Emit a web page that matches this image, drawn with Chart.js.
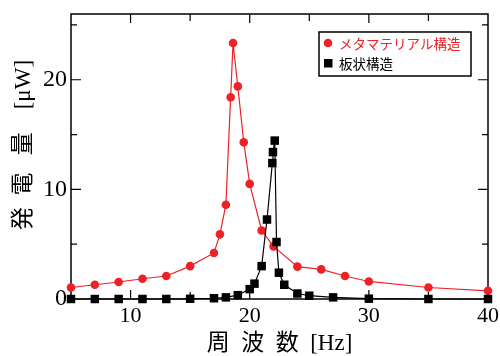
<!DOCTYPE html>
<html><head><meta charset="utf-8">
<script src="https://cdn.jsdelivr.net/npm/chart.js@4"></script>
<style>html,body{margin:0;padding:0;background:#fff;}</style>
</head><body>
<canvas id="c" width="500" height="356"></canvas>
<script>
// ---- data ----
const metaX = [5, 7, 9, 11, 13, 15, 17, 17.5, 18, 18.4, 18.6, 19, 19.5, 20, 21, 22, 24, 26, 28, 30, 35, 40];
const metaY = [1.05, 1.3, 1.55, 1.85, 2.1, 3.0, 4.2, 5.9, 8.6, 18.4, 23.35, 19.4, 14.3, 10.5, 6.25, 4.8, 2.95, 2.7, 2.1, 1.6, 1.05, 0.75];
const plateX = [5, 7, 9, 11, 13, 15, 17, 18, 19, 20, 20.4, 21, 21.45, 21.9, 21.95, 22.1, 22.25, 22.45, 22.9, 24, 25, 27, 30, 35, 40];
const plateY = [0, 0, 0, 0, 0, 0.02, 0.07, 0.15, 0.35, 0.9, 1.4, 3.0, 7.25, 12.4, 13.4, 14.45, 5.2, 2.4, 1.3, 0.5, 0.3, 0.15, 0.03, 0, 0];
const seriesNames = ['メタマテリアル構造', '板状構造'];
const xTickLabels = [10, 20, 30, 40];
const yTickLabels = [0, 10, 20];
const xTitle = '周  波  数  [Hz]';
const yTitle = '    発  電   量    [μW]';

const RED = '#ec2227';
const BLACK = '#000000';
const toPts = (xs, ys) => xs.map((x, i) => ({x: x, y: ys[i]}));

const frameTicks = {
  id: 'frameTicks',
  beforeDatasetsDraw(chart) {
    const {ctx, chartArea: a, scales: {x, y}} = chart;
    ctx.save();
    ctx.strokeStyle = '#000';
    ctx.lineWidth = 1.5;
    ctx.strokeRect(a.left, a.top, a.right - a.left, a.bottom - a.top);
    ctx.lineWidth = 1.2;
    ctx.beginPath();
    for (let v = 10; v < 40; v += 5) {
      const px = x.getPixelForValue(v);
      const len = (v % 10 === 0) ? 9 : 7;
      ctx.moveTo(px, a.top); ctx.lineTo(px, a.top + len);
      ctx.moveTo(px, a.bottom); ctx.lineTo(px, a.bottom - len);
    }
    for (let v = 5; v < 26; v += 5) {
      const py = y.getPixelForValue(v);
      const len = (v % 10 === 0) ? 10 : 6;
      ctx.moveTo(a.left, py); ctx.lineTo(a.left + len, py);
      ctx.moveTo(a.right, py); ctx.lineTo(a.right - len, py);
    }
    ctx.stroke();
    ctx.restore();
  },
  afterDraw(chart) {
    const {ctx} = chart;
    ctx.save();
    ctx.strokeStyle = '#000';
    ctx.lineWidth = 1.5;
    ctx.strokeRect(319, 32, 152, 44);
    ctx.font = '13.5px "Noto Sans CJK JP"';
    ctx.textBaseline = 'middle';
    ctx.textAlign = 'left';
    ctx.fillStyle = RED;
    ctx.beginPath(); ctx.arc(328, 43, 4.3, 0, Math.PI * 2); ctx.fill();
    ctx.fillText(seriesNames[0], 339, 43.5);
    ctx.fillStyle = BLACK;
    ctx.fillRect(324, 59, 8.5, 8.5);
    ctx.fillText(seriesNames[1], 339, 64);
    ctx.restore();
  }
};

new Chart(document.getElementById('c'), {
  type: 'scatter',
  data: {
    datasets: [
      {
        label: seriesNames[0],
        data: toPts(metaX, metaY),
        showLine: true,
        borderColor: RED,
        backgroundColor: RED,
        borderWidth: 1.2,
        pointStyle: 'circle',
        pointRadius: 4.3,
        pointBorderWidth: 0,
        order: 2,
        clip: false
      },
      {
        label: seriesNames[1],
        data: toPts(plateX, plateY),
        showLine: true,
        borderColor: BLACK,
        backgroundColor: BLACK,
        borderWidth: 1.2,
        pointStyle: 'rect',
        pointRadius: 6,
        pointBorderWidth: 0,
        order: 1,
        clip: false
      }
    ]
  },
  options: {
    responsive: false,
    animation: false,
    devicePixelRatio: 1,
    layout: {padding: {top: 14, right: 12, left: 0, bottom: 0}},
    plugins: {legend: {display: false}, tooltip: {enabled: false}},
    scales: {
      x: {
        type: 'linear',
        min: 5, max: 40,
        grid: {display: false, drawTicks: false},
        border: {display: false},
        ticks: {
          stepSize: 5,
          padding: 4,
          color: '#000',
          font: {family: '"Liberation Serif"', size: 22},
          maxRotation: 0,
          callback: v => xTickLabels.includes(v) ? String(v) : ''
        },
        title: {
          display: true,
          text: xTitle,
          color: '#000',
          font: {family: '"Liberation Serif", "Noto Sans CJK JP"', size: 23, lineHeight: 1.0},
          padding: {top: 0, bottom: 0.5}
        },
        afterFit: s => { s.height = 57; s.paddingLeft = 0; s.paddingRight = 0; }
      },
      y: {
        type: 'linear',
        min: 0, max: 26,
        grid: {display: false, drawTicks: false},
        border: {display: false},
        ticks: {
          stepSize: 5,
          padding: 4,
          color: '#000',
          font: {family: '"Liberation Serif"', size: 24},
          callback: v => yTickLabels.includes(v) ? String(v) : ''
        },
        title: {
          display: true,
          text: yTitle,
          color: '#000',
          font: {family: '"Liberation Serif", "Noto Sans CJK JP"', size: 23, lineHeight: 1.2},
          padding: {top: 10, bottom: 0}
        },
        afterFit: s => { s.width = 71; s.paddingTop = 0; s.paddingBottom = 0; }
      }
    }
  },
  plugins: [frameTicks]
});
</script>
</body></html>
